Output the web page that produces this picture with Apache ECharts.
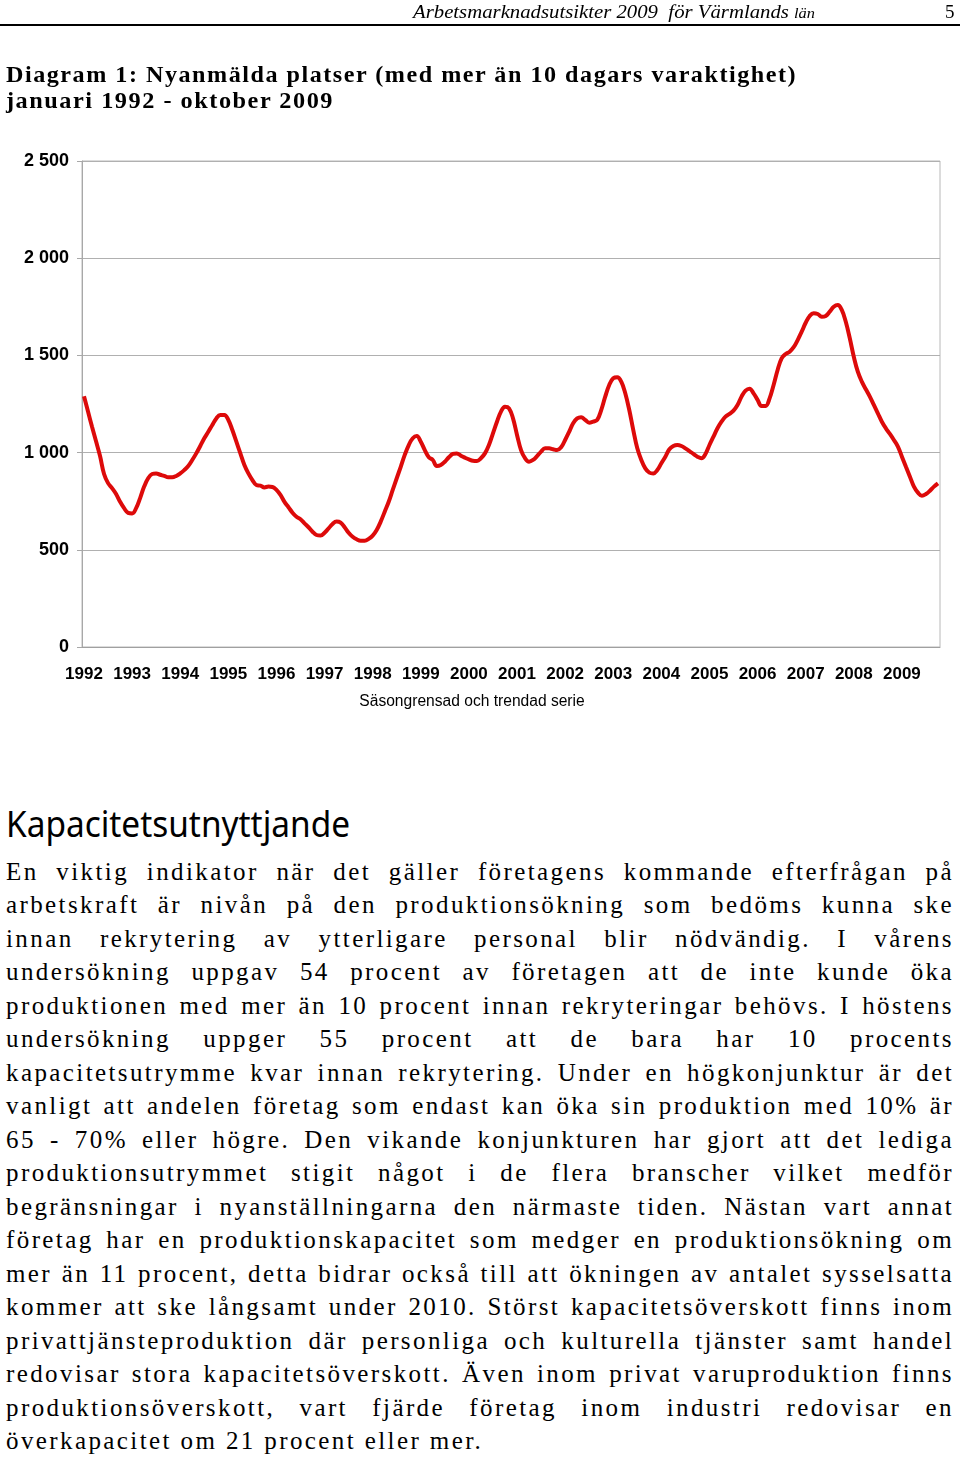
<!DOCTYPE html>
<html>
<head>
<meta charset="utf-8">
<script src="https://cdn.jsdelivr.net/npm/echarts@6/dist/echarts.min.js"></script>
<style>
  html, body { margin: 0; padding: 0; background: #fff; }
  #page { position: relative; width: 960px; height: 1460px; overflow: hidden; background: #fff; }
  #chart { position: absolute; left: 0; top: 0; width: 960px; height: 730px; }
  .abs { position: absolute; white-space: nowrap; transform-origin: 0 50%; color: #000; }
  .hdr { font-family: "Liberation Serif", serif; font-style: italic; font-size: 19px; line-height: 24px; }
  .ttl { font-family: "Liberation Serif", serif; font-weight: bold; font-size: 24px; line-height: 26px; letter-spacing: 1.5px; }
  .h2 { font-family: "Noto Sans", sans-serif; font-size: 36px; line-height: 44px; }
  .p { font-family: "Liberation Serif", serif; font-size: 25px; line-height: 33.5px; left: 6px; }
</style>
</head>
<body>
<div id="page">
  <div id="chart"></div>
  <div class="abs hdr fit" data-w="402" style="left:413px; top:0px;">Arbetsmarknadsutsikter 2009&nbsp; för Värmlands <span style="font-size:15px">län</span></div>
  <div class="abs hdr" style="left:945px; top:0px; font-style:normal;">5</div>
  <div style="position:absolute; left:0; top:24px; width:960px; height:2px; background:#000;"></div>
  <div class="abs ttl fit" data-w="791" style="left:6px; top:61px;">Diagram 1: Nyanmälda platser (med mer än 10 dagars varaktighet)</div>
  <div class="abs ttl fit" data-w="328" style="left:6px; top:87px;">januari 1992 - oktober 2009</div>
  <div class="abs h2 fit" data-w="344" style="left:6px; top:802px;">Kapacitetsutnyttjande</div>
  <div id="para"></div>
</div>
<script>
// ---- Data: Nyanmälda platser, säsongrensad och trendad serie, monthly Jan 1992 - Oct 2009 ----
const years = [1992, 1993, 1994, 1995, 1996, 1997, 1998, 1999, 2000,
               2001, 2002, 2003, 2004, 2005, 2006, 2007, 2008, 2009];
const lastMonthCount = 10; // data ends October 2009
const values = [
  1290, 1211, 1133, 1058, 982, 890, 843, 817, 787, 747, 714, 690,        // 1992
  687, 714, 766, 825, 868, 890, 893, 886, 880, 873, 873, 880,            // 1993
  893, 910, 931, 962, 996, 1034, 1074, 1107, 1142, 1176, 1193, 1193,     // 1994
  1168, 1116, 1056, 996, 936, 893, 859, 833, 830, 821, 825, 823,         // 1995
  808, 782, 747, 719, 691, 670, 657, 636, 616, 593, 576, 573,            // 1996
  588, 610, 633, 645, 640, 616, 588, 567, 554, 547, 547, 556,            // 1997
  573, 602, 645, 696, 747, 808, 868, 927, 988, 1039, 1074, 1085,         // 1998
  1056, 1013, 976, 962, 931, 936, 953, 976, 993, 996, 984, 974,          // 1999
  965, 958, 957, 971, 996, 1039, 1099, 1159, 1211, 1236, 1228, 1176,     // 2000
  1091, 1013, 971, 953, 962, 982, 1005, 1022, 1022, 1017, 1013, 1027,    // 2001
  1065, 1107, 1151, 1176, 1182, 1168, 1154, 1159, 1168, 1219, 1288, 1348,// 2002
  1382, 1387, 1365, 1305, 1219, 1116, 1022, 962, 919, 897, 893, 910,     // 2003
  945, 979, 1017, 1034, 1039, 1034, 1022, 1008, 993, 979, 971, 993,      // 2004
  1039, 1082, 1125, 1159, 1185, 1199, 1216, 1245, 1288, 1319, 1329, 1305,// 2005
  1271, 1240, 1240, 1279, 1348, 1425, 1485, 1507, 1519, 1542, 1579, 1622,// 2006
  1668, 1703, 1717, 1713, 1699, 1703, 1725, 1750, 1759, 1734, 1673, 1588,// 2007
  1493, 1416, 1365, 1326, 1288, 1245, 1202, 1159, 1125, 1096, 1065, 1031,// 2008
  979, 927, 876, 825, 794, 778, 787, 804, 825, 842                       // 2009
];
const yTicks = [0, 500, 1000, 1500, 2000, 2500];
const caption = "Säsongrensad och trendad serie";

const paragraphLines = [
  "En viktig indikator när det gäller företagens kommande efterfrågan på",
  "arbetskraft är nivån på den produktionsökning som bedöms kunna ske",
  "innan rekrytering av ytterligare personal blir nödvändig. I vårens",
  "undersökning uppgav 54 procent av företagen att de inte kunde öka",
  "produktionen med mer än 10 procent innan rekryteringar behövs. I höstens",
  "undersökning uppger 55 procent att de bara har 10 procents",
  "kapacitetsutrymme kvar innan rekrytering. Under en högkonjunktur är det",
  "vanligt att andelen företag som endast kan öka sin produktion med 10% är",
  "65 - 70% eller högre. Den vikande konjunkturen har gjort att det lediga",
  "produktionsutrymmet stigit något i de flera branscher vilket medför",
  "begränsningar i nyanställningarna den närmaste tiden. Nästan vart annat",
  "företag har en produktionskapacitet som medger en produktionsökning om",
  "mer än 11 procent, detta bidrar också till att ökningen av antalet sysselsatta",
  "kommer att ske långsamt under 2010. Störst kapacitetsöverskott finns inom",
  "privattjänsteproduktion där personliga och kulturella tjänster samt handel",
  "redovisar stora kapacitetsöverskott. Även inom privat varuproduktion finns",
  "produktionsöverskott, vart fjärde företag inom industri redovisar en",
  "överkapacitet om 21 procent eller mer."
];

// ---- Build categories (one per month) ----
const categories = [];
years.forEach((y, yi) => {
  const n = yi === years.length - 1 ? lastMonthCount : 12;
  for (let m = 1; m <= n; m++) categories.push(y + '-' + String(m).padStart(2, '0'));
});

// ---- Paragraph text ----
const para = document.getElementById('para');
const baseLS = 2.4;
paragraphLines.forEach((t, i) => {
  const d = document.createElement('div');
  d.className = 'abs p';
  d.style.top = (854.5 + i * 33.5) + 'px';
  d.style.letterSpacing = baseLS + 'px';
  d.textContent = t;
  para.appendChild(d);
  if (i < paragraphLines.length - 1) {
    const target = 948;
    let w = d.getBoundingClientRect().width;
    const spaces = (t.match(/ /g) || []).length;
    if (w > target) {
      const ls = baseLS - (w - target) / t.length;
      d.style.letterSpacing = ls + 'px';
      w = d.getBoundingClientRect().width;
    }
    d.style.wordSpacing = ((target - w) / spaces) + 'px';
  }
});

// ---- Fit headings to measured widths ----
document.querySelectorAll('.fit').forEach(el => {
  const w = el.getBoundingClientRect().width;
  const target = parseFloat(el.dataset.w);
  el.style.transform = 'scaleX(' + (target / w) + ')';
});

// ---- Chart ----
const chart = echarts.init(document.getElementById('chart'), null, { renderer: 'canvas' });
const fmtY = v => v >= 1000 ? Math.floor(v / 1000) + ' ' + String(v % 1000).padStart(3, '0') : String(v);
chart.setOption({
  animation: false,
  backgroundColor: 'transparent',
  grid: { left: 82, top: 161, width: 858, height: 486, show: true, borderColor: '#b8b8b8', borderWidth: 1 },
  xAxis: {
    type: 'category',
    data: categories,
    boundaryGap: true,
    axisLine: { lineStyle: { color: '#a0a0a0', width: 1 } },
    axisTick: { interval: 0, length: 5, lineStyle: { color: '#909090' } },
    axisLabel: {
      interval: 11, margin: 19,
      fontFamily: 'Liberation Sans', fontWeight: 'bold', fontSize: 17, color: '#000',
      formatter: v => v.slice(0, 4)
    },
    splitLine: { show: false }
  },
  yAxis: {
    type: 'value',
    min: yTicks[0], max: yTicks[yTicks.length - 1], interval: 500,
    axisLine: { show: true, lineStyle: { color: '#a8a8a8', width: 1 } },
    axisTick: { show: true, length: 5, lineStyle: { color: '#a8a8a8' } },
    axisLabel: { margin: 13, fontFamily: 'Liberation Sans', fontWeight: 'bold', fontSize: 18, color: '#000', formatter: fmtY },
    splitLine: { lineStyle: { color: '#b0b0b0', width: 1 } }
  },
  graphic: [{
    type: 'text', x: 472, y: 702,
    style: { text: caption, fill: '#000', font: '15.6px "Liberation Sans"', align: 'center', verticalAlign: 'middle', textAlign: 'center', textVerticalAlign: 'middle' }
  }],
  series: [{
    type: 'line',
    data: values,
    smooth: 0.4,
    showSymbol: false,
    lineStyle: { color: '#dd0a0a', width: 4 },
    itemStyle: { color: '#dd0a0a' }
  }]
});
</script>
</body>
</html>
